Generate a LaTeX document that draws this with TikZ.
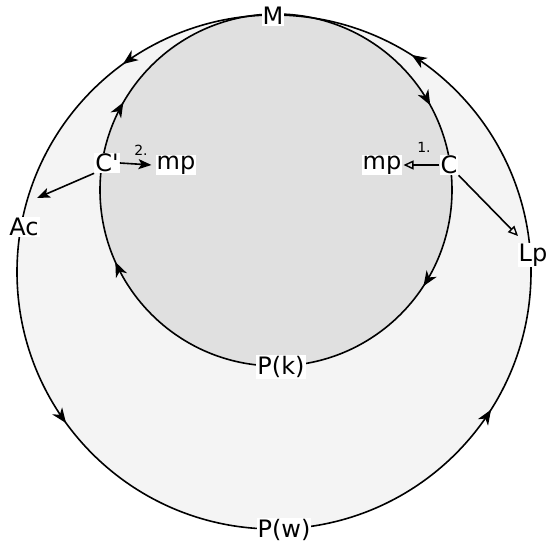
\documentclass[tikz,border=0pt]{standalone}
\usepackage{fontspec}
\setmainfont{DejaVu Sans}
\usetikzlibrary{arrows.meta,decorations.markings}
\definecolor{outerfill}{RGB}{244,244,244}
\definecolor{innerfill}{RGB}{224,224,224}
\tikzset{
  lbl/.style={fill=white,inner sep=1pt,font=\fontsize{24}{28}\selectfont},
  small/.style={inner sep=0pt,font=\fontsize{14}{16}\selectfont},
  cyc/.style={line width=1.6pt},
  tipfill/.style={-{Stealth[length=13pt,width=10pt,inset=3pt]}},
  tipopen/.style={-{Triangle[open,length=10pt,width=9pt,line width=1.4pt]}},
  conn/.style={line width=1.6pt},
  cyctip/.style={},
}
\newcommand{\cyctipmark}{\arrow{Stealth[length=15pt,width=12pt,inset=4.5pt]}}
\begin{document}
\begin{tikzpicture}[x=1pt,y=1pt]
\useasboundingbox (0,0) rectangle (547,544);
\fill[outerfill] (274,272) circle[radius=257];
\fill[innerfill] (276,354) circle[radius=176];
% outer circle, counterclockwise from top
\draw[cyc,postaction={decorate},decoration={markings,
  mark=at position 0.100 with {\cyctipmark},
  mark=at position 0.350 with {\cyctipmark},
  mark=at position 0.660 with {\cyctipmark},
  mark=at position 0.910 with {\cyctipmark}}]
  (274,529) arc[start angle=90,end angle=450,radius=257];
% inner circle, clockwise from top
\draw[cyc,postaction={decorate},decoration={markings,
  mark=at position 0.170 with {\cyctipmark},
  mark=at position 0.342 with {\cyctipmark},
  mark=at position 0.683 with {\cyctipmark},
  mark=at position 0.833 with {\cyctipmark}}]
  (276,530) arc[start angle=90,end angle=-270,radius=176];
% labels
\node[lbl] (M) at (273,528) {M};
\node[lbl] (Cp) at (107,381) {C\textquotesingle};
\node[small] (two) at (141,394) {2.};
\node[lbl] (mpL) at (176,379) {mp};
\node[lbl] (mpR) at (382,379) {mp};
\node[lbl] (C) at (449,379) {C};
\node[small] (one) at (424,397) {1.};
\node[lbl] (Ac) at (24,317) {Ac};
\node[lbl] (Lp) at (533,289) {Lp};
\node[lbl] (Pk) at (281,177) {P(k)};
\node[lbl] (Pw) at (284,14) {P(w)};
\coordinate (acTip) at (37,346);
\coordinate (lpTip) at (518,308);
% connectors
\draw[conn,tipfill] (Cp.south west) -- (acTip);
\draw[conn,tipfill] (Cp.east) -- ([xshift=-4pt]mpL.west);
\draw[conn,tipopen] (C.west) -- ([xshift=1pt]mpR.east);
\draw[conn,tipopen] (C.south east) -- (lpTip);
\end{tikzpicture}
\end{document}
